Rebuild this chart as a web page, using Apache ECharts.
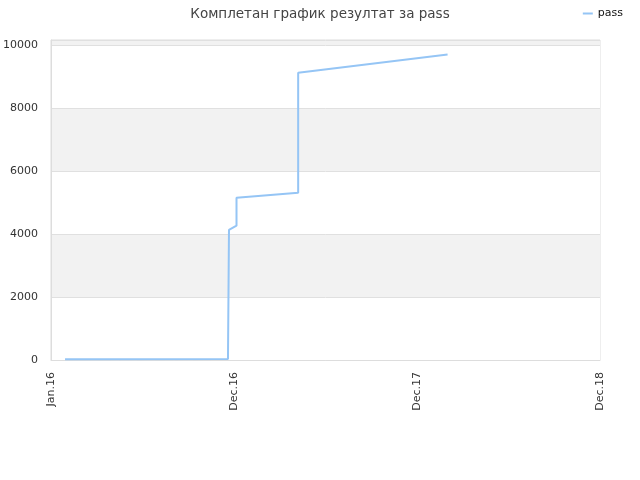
<!DOCTYPE html>
<html>
<head>
<meta charset="utf-8">
<script src="https://cdn.jsdelivr.net/npm/echarts@6/dist/echarts.min.js"></script>
<style>
  html, body { margin: 0; padding: 0; background: #fff; }
  #chart { width: 640px; height: 480px; }
</style>
</head>
<body>
<div id="chart"></div>
<script>
const chartTitle = "Комплетан график резултат за pass";
const seriesName = "pass";

// tick labels, one per year-long step from the start date
const xTickLabels = ["Jan.16", "Dec.16", "Dec.17", "Dec.18"];
const startDate = "2016-01-01";

const passDates = [
    "2016-01-29", "2016-12-19", "2016-12-20", "2016-12-21",
    "2017-01-05", "2017-01-05", "2017-05-08", "2017-05-08", "2018-03-02"
];
const passValues = [20, 30, 2140, 4130, 4265, 5150, 5310, 9120, 9700];

const DAY = 24 * 3600 * 1000;
const t0 = Date.parse(startDate);
function dayOf(d) {
    return Math.round((Date.parse(d) - t0) / DAY);
}

let chart = echarts.init(document.getElementById("chart"));
chart.setOption({
    animation: false,
    title: {
        text: chartTitle,
        left: "center",
        top: 2,
        textStyle: { fontFamily: "DejaVu Sans", fontSize: 13.5, fontWeight: "normal", color: "#444" }
    },
    legend: {
        right: 12,
        top: 3,
        itemWidth: 10,
        itemHeight: 2,
        icon: "rect",
        textStyle: { fontFamily: "DejaVu Sans", fontSize: 11, color: "#111" },
        data: [seriesName]
    },
    grid: {
        left: 51, right: 40, top: 40, bottom: 120,
        outerBoundsMode: "none",
        containLabel: false,
        show: true, borderColor: "#dddddd", borderWidth: 1
    },
    xAxis: {
        type: "value",
        min: 0,
        max: 365 * 3,
        interval: 365,
        axisLine: { lineStyle: { color: "#dddddd" } },
        axisTick: { show: false },
        splitLine: { show: false },
        axisLabel: {
            rotate: 90,
            margin: 12,
            fontFamily: "DejaVu Sans",
            fontSize: 11,
            color: "#333",
            formatter: v => xTickLabels[Math.round(v / 365)] || ""
        }
    },
    yAxis: {
        type: "value",
        min: 0,
        max: 10160,
        interval: 2000,
        axisLine: { show: true, lineStyle: { color: "#dddddd" } },
        axisTick: { show: false },
        axisLabel: {
            fontFamily: "DejaVu Sans",
            fontSize: 11,
            color: "#333",
            margin: 13,
            showMaxLabel: false,
            formatter: v => String(v)
        },
        splitLine: { lineStyle: { color: "#e0e0e0" } },
        splitArea: { show: true, areaStyle: { color: ["#ffffff", "#f2f2f2"] } }
    },
    series: [{
        name: seriesName,
        type: "line",
        symbol: "none",
        lineStyle: { color: "#95c5f5", width: 2 },
        itemStyle: { color: "#95c5f5" },
        data: passDates.map((d, i) => [dayOf(d), passValues[i]])
    }]
});
</script>
</body>
</html>
